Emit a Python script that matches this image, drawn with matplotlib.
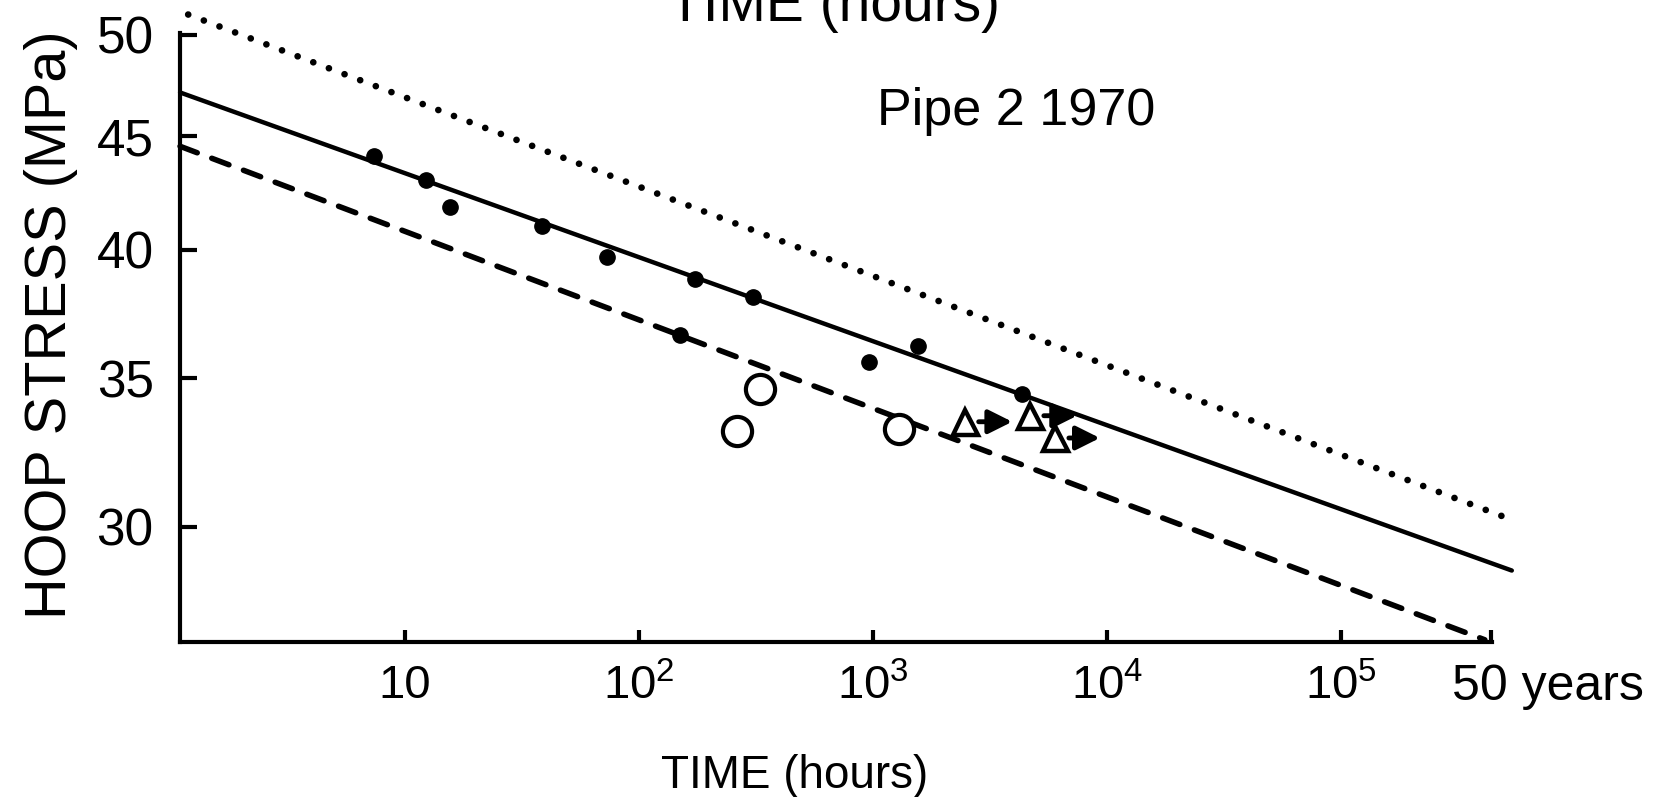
import numpy as np
import matplotlib.pyplot as plt
from matplotlib.transforms import ScaledTranslation

plt.rcParams['font.family'] = ['Liberation Sans', 'DejaVu Sans']

# failure times (hours) and hoop stress (MPa)
dot_hours = [7.4, 12.3, 15.6, 38.6, 73, 150, 174, 307, 962, 1558, 4330]
dot_stress = [44.1, 43.0, 41.8, 41.0, 39.7, 36.6, 38.8, 38.1, 35.6, 36.2, 34.45]

circle_hours = [263, 329, 1293]
circle_stress = [33.15, 34.6, 33.2]

# unfailed specimens (triangles) with arrows showing they are still running
tri_hours = [2470, 4690, 6000]
tri_stress = [33.46, 33.67, 32.9]
tri_arrow_to = [3940, 7460, 9330]

# regression line and its limits (start / end points)
mean_hours = [1.096, 5.37e5]
mean_stress = [47.1, 28.67]
upper_hours = [1.187, 5.64e5]
upper_stress = [51.07, 30.16]
lower_hours = [1.096, 4.12e5]
lower_stress = [44.54, 26.68]

x_ticks = [10, 1e2, 1e3, 1e4, 1e5, 50 * 8760]
x_labels = ['10', r'$\mathregular{10^2}$', r'$\mathregular{10^3}$',
            r'$\mathregular{10^4}$', r'$\mathregular{10^5}$', '50 years']
y_ticks = [30, 35, 40, 45, 50]

fig = plt.figure(figsize=(16.72, 7.97), dpi=100)
ax = fig.add_axes([0.1077, 0.1945, 0.7846, 0.7641])
ax.set_xscale('log')
ax.set_yscale('log')
ax.set_xlim(1.096, 4.416e5)
ax.set_ylim(26.62, 50.1)

# fitted lines
ax.plot(mean_hours, mean_stress, color='black', lw=3.2, solid_capstyle='round', clip_on=False)
ax.plot(upper_hours, upper_stress, color='black', lw=4.8, linestyle=(0, (0.01, 2.5)),
        dash_capstyle='round', clip_on=False)
ax.plot(lower_hours, lower_stress, color='black', lw=4, linestyle=(0, (3.3, 2.8)),
        dash_capstyle='round', clip_on=False)

# data points
ax.plot(dot_hours, dot_stress, 'o', color='black', ms=11, clip_on=False)
ax.plot(circle_hours, circle_stress, 'o', mfc='white', mec='black', mew=3, ms=21)
ax.plot(tri_hours, tri_stress, '^', mfc='white', mec='black', mew=3.2, ms=18)
for x0, y0, x1 in zip(tri_hours, tri_stress, tri_arrow_to):
    ax.annotate('', xy=(x1, y0), xytext=(x0, y0),
                arrowprops=dict(arrowstyle='-|>', color='black', lw=3.5,
                                mutation_scale=36, shrinkA=10, shrinkB=0))

# axes styling
for side in ['top', 'right']:
    ax.spines[side].set_visible(False)
for side in ['left', 'bottom']:
    ax.spines[side].set_linewidth(3)

ax.set_yticks(y_ticks)
ax.set_yticklabels([str(v) for v in y_ticks])
ax.set_xticks(x_ticks)
ax.set_xticklabels(x_labels)
ax.minorticks_off()
ax.tick_params(axis='y', direction='in', length=12, width=3, pad=19, labelsize=37)
ax.tick_params(axis='x', direction='in', length=9, width=3, pad=16, labelsize=34)
ax.get_xticklabels()[-1].set_fontsize(36)
ax.get_xticklabels()[-1].set_transform(
    ax.get_xticklabels()[-1].get_transform() + ScaledTranslation(0.57, 0, fig.dpi_scale_trans))

fig.text(0.0305, 0.592, 'HOOP STRESS (MPa)', rotation=90, ha='center', va='center', fontsize=41.5)
fig.text(0.4755, 0.011, 'TIME (hours)', ha='center', va='baseline', fontsize=33)
ax.text(0.637, 0.849, 'Pipe 2 1970', transform=ax.transAxes, ha='center', va='baseline', fontsize=37.5)

# label of the chart above, cut off by the page crop
fig.text(0.4988, 0.974, 'TIME (hours)', ha='center', va='baseline', fontsize=41)

plt.savefig('out.png', dpi=100)
